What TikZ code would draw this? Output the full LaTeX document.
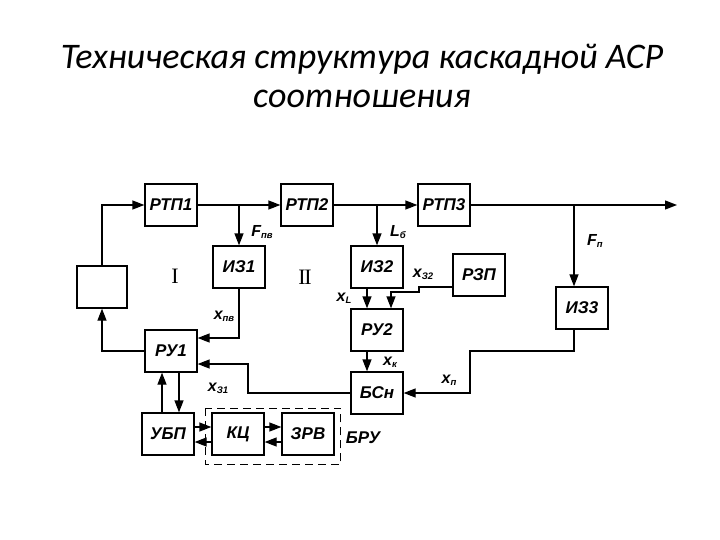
\documentclass[tikz,border=0pt]{standalone}
\usepackage{fontspec}
\setmainfont{Liberation Sans}
\newfontfamily\titlefont{Carlito}
\newfontfamily\romfont{Liberation Serif}
\usetikzlibrary{arrows.meta,calc}

% label with a lowered index
\newcommand{\sublab}[2]{#1\raisebox{-0.25ex}{\fontsize{9.5}{9.5}\selectfont #2}}

\tikzset{
  blk/.style={draw, line width=1.3pt, minimum width=52pt, minimum height=42pt,
    inner sep=0pt, font=\fontsize{17}{17}\selectfont\bfseries\itshape},
  sig/.style={line width=1.3pt, -{Triangle[length=12pt,width=9pt]}},
  lbl/.style={inner sep=0pt, font=\fontsize{16}{16}\selectfont\bfseries\itshape},
  rom/.style={inner sep=0pt, font=\romfont\fontsize{22}{22}\selectfont}
}

\begin{document}
\begin{tikzpicture}[x=1pt,y=-1pt]
			\useasboundingbox (0,0) rectangle (720,540);
			%%%%% TITLE %%%%%
			\node[anchor=base, font=\titlefont\itshape\fontsize{36}{36}\selectfont] (title1) at (362,69) {Техническая структура каскадной АСР};
			\node[anchor=base, font=\titlefont\itshape\fontsize{36}{36}\selectfont] (title2) at (362,108) {соотношения};
			
			%%%%% BLOCKS %%%%%
			\node[blk, minimum width=50pt] (blank) at (102,287) {};
			\node[blk] (rtp1) at (171,205) {РТП1};
			\node[blk] (rtp2) at (307,205) {РТП2};
			\node[blk] (rtp3) at (444,205) {РТП3};
			\node[blk] (iz1) at (239,267) {ИЗ1};
			\node[blk] (iz2) at (377,267) {ИЗ2};
			\node[blk] (rzp) at (479,275) {РЗП};
			\node[blk] (iz3) at (582,308) {ИЗ3};
			\node[blk] (ru2) at (377,330) {РУ2};
			\node[blk] (bsn) at (377,393) {БСн};
			\node[blk] (ru1) at (171,351) {РУ1};
			\node[blk] (ubp) at (168,434) {УБП};
			\node[blk] (kc) at (238,434) {КЦ};
			\node[blk] (zrv) at (308,434) {ЗРВ};
			
			%%%%% TOP LINE %%%%%
			\coordinate (out) at (677,205);
			\coordinate (fpx) at (574,205);
			\draw[sig] (blank.north) |- (rtp1.west);
			\draw[sig] (rtp1.east) -- (rtp2.west);
			\draw[sig] (rtp2.east) -- (rtp3.west);
			\draw[sig] (rtp3.east) -- (out);
			\draw[sig] (iz1.north |- rtp1.east) -- (iz1.north);
			\draw[sig] (iz2.north |- rtp2.east) -- (iz2.north);
			\draw[sig] (fpx) -- (fpx |- iz3.north);
			
			%%%%% LOOP I %%%%%
			\draw[sig] (iz1.south) |- ($(ru1.east)+(0,-13)$);
			\draw[sig] (ru1.west) -| (blank.south);
			\coordinate (k1) at (248,393);
			\draw[sig] (bsn.west) -- (k1) |- ($(ru1.east)+(0,13)$);
			
			%%%%% LOOP II %%%%%
			\draw[sig] ($(iz2.south)+(-10,0)$) -- ($(ru2.north)+(-10,0)$);
			\coordinate (z1) at (419,292);
			\draw[sig] ($(rzp.west)+(0,12)$) -| (z1) -| ($(ru2.north)+(14,0)$);
			\draw[sig] ($(ru2.south)+(-10,0)$) -- ($(bsn.north)+(-10,0)$);
			\coordinate (p1) at (470,351);
			\draw[sig] (fpx |- iz3.south) |- (p1) |- (bsn.east);
			
			%%%%% BRU %%%%%
			\coordinate (u1) at ($(ubp.north)+(-6,0)$);
			\coordinate (u2) at ($(ubp.north)+(11,0)$);
			\draw[sig] (u1) -- (u1 |- ru1.south);
			\draw[sig] (u2 |- ru1.south) -- (u2);
			\draw[sig] ($(ubp.east)+(0,-7)$) -- ($(kc.west)+(0,-7)$);
			\draw[sig] ($(kc.west)+(0,8)$) -- ($(ubp.east)+(0,8)$);
			\draw[sig] ($(kc.east)+(0,-7)$) -- ($(zrv.west)+(0,-7)$);
			\draw[sig] ($(zrv.west)+(0,8)$) -- ($(kc.east)+(0,8)$);
			\draw[line width=1.3pt, dash pattern=on 8pt off 5pt] ($(kc.north west)+(-6,-4)$) rectangle ($(zrv.south east)+(6,9)$);
			
			%%%%% LABELS %%%%%
			\node[lbl] (lfpv) at (262,232) {\sublab{F}{пв}};
			\node[lbl] (llb) at (398,232) {\sublab{L}{б}};
			\node[lbl] (lfp) at (595,241) {\sublab{F}{п}};
			\node[lbl] (lxz2) at (423,274) {\sublab{x}{З2}};
			\node[lbl] (lxl) at (344,298) {\sublab{x}{L}};
			\node[lbl] (lxpv) at (224,316) {\sublab{x}{пв}};
			\node[lbl] (lxz1) at (218,388) {\sublab{x}{З1}};
			\node[lbl] (lxk) at (390,362) {\sublab{x}{к}};
			\node[lbl] (lxp) at (449,380) {\sublab{x}{п}};
			\node[lbl, font=\fontsize{17}{17}\selectfont\bfseries\itshape] (lbru) at (363,438) {БРУ};
			\node[rom] (rom1) at (175,276) {I};
			\node[rom] (rom2) at (305,277) {I\kern-1.5ptI};
\end{tikzpicture}
\end{document}
